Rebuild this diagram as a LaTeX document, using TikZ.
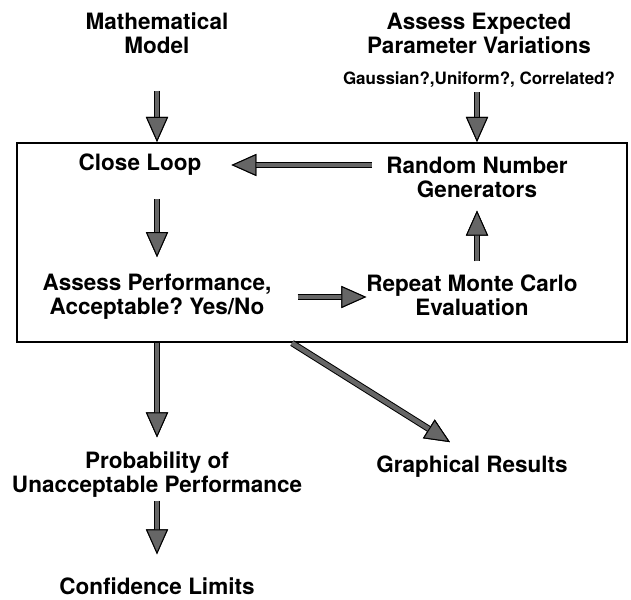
\documentclass[tikz,border=0pt]{standalone}
\usepackage{fontspec}
\setmainfont{TeX Gyre Heros}
\usetikzlibrary{arrows.meta,positioning}
\frenchspacing

\begin{document}
\begin{tikzpicture}[on grid,
	every node/.style={align=center,inner sep=0pt,font=\bfseries\fontsize{22.5}{24}\selectfont},
	small/.style={font=\bfseries\fontsize{17}{20}\selectfont},
	loopbox/.style={draw,line width=2pt,minimum width=610pt,minimum height=199pt},
	fat/.style={-{Triangle[length=25pt,width=22pt,color=black,fill=black!60,line width=1pt]},
		line width=4.5pt,draw=black!60,preaction={draw=black,line width=6.5pt}}]
	\useasboundingbox (-157pt,33pt) rectangle (474pt,-566pt);
	\node (mm) {Mathematical\\Model};
	\node (pv) [right=322pt of mm] {Assess Expected\\Parameter Variations};
	\node[small] (gauss) [below=47pt of pv] {Gaussian?,Uniform?, Correlated?};
	\node[loopbox] (loop) at (165pt,-209.5pt) {};
	\node (cl) [below=132pt of mm,xshift=-17pt] {Close Loop};
	\node (rng) [below=144pt of pv,xshift=-2pt] {Random Number\\Generators};
	\node (ap) [below=264pt of mm] {Assess Performance,\\Acceptable? Yes/No};
	\node (rmc) [right=315pt of ap,yshift=2pt] {Repeat Monte Carlo\\Evaluation};
	\node (prob) [below=177.5pt of ap] {Probability of\\Unacceptable Performance};
	\node (gr) [right=315pt of prob,yshift=7.5pt] {Graphical Results};
	\node (conf) [below=111.5pt of prob] {Confidence Limits};
	% inputs
	\draw[fat,shorten <=37pt] (mm) -- (mm |- loop.north);
	\draw[fat,shorten <=4pt] (gauss.south -| rng) -- (rng |- loop.north);
	% loop
	\draw[fat,shorten <=14pt,shorten >=30pt] (cl -| rng.west) -- (cl);
	\draw[fat,shorten <=23pt,shorten >=17pt] (ap |- cl.south) -- (ap);
	\draw[fat,shorten <=26pt] (ap.east) -- (ap -| rmc.west);
	\draw[fat,shorten <=13pt,shorten >=13pt] (rng |- rmc.north) -- (rng.south);
	% outputs
	\draw[fat,shorten >=14pt] (prob |- loop.south) -- (prob);
	\draw[fat,shorten >=26pt] ([xshift=-30pt]loop.south) -- (gr.north);
	\draw[fat,shorten <=3pt,shorten >=23pt] (prob) -- (conf);
\end{tikzpicture}
\end{document}
